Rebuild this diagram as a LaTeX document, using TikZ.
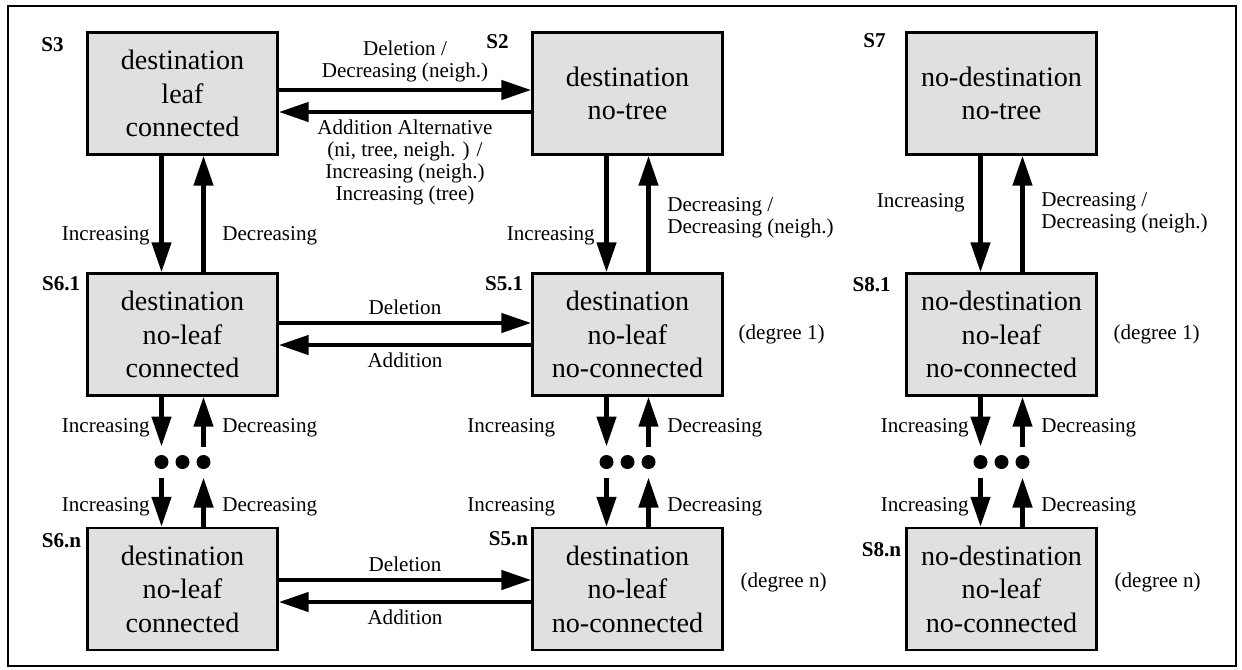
\documentclass[tikz,border=0pt]{standalone}
\usepackage{fontspec}
\setmainfont{Liberation Serif}
\usetikzlibrary{arrows.meta,positioning,calc}

\begin{document}
\begin{tikzpicture}[
 state/.style={draw,line width=1.4pt,fill=black!12,minimum width=3.8cm,minimum height=2.44cm,align=center,inner sep=2pt,font=\fontsize{16}{19}\selectfont},
 tag/.style={anchor=north east,inner sep=1pt,font=\fontsize{12}{13}\selectfont\bfseries},
 lbl/.style={inner sep=2pt,align=center,font=\fontsize{12}{12.5}\selectfont},
 lft/.style={lbl,left,xshift=-0.12cm},
 rgt/.style={lbl,right,xshift=0.26cm,align=left},
 dot/.style={circle,fill,minimum size=0.28cm,inner sep=0pt,outer sep=0.17cm},
 a/.style={-{Triangle[length=0.6cm,width=0.38cm]},line width=2.6pt}]
\useasboundingbox (0,0) rectangle (24.84,-13.38);
\draw[line width=1.1pt] (0.16,-0.12) rectangle (24.72,-13.32);

% states
\node[state] (s3) at (3.65,-1.87) {destination\\leaf\\connected};
\node[state] (s2) at (12.55,-1.87) {destination\\no-tree};
\node[state] (s7) at (20.03,-1.87) {no-destination\\no-tree};
\node[state] (s61) at (3.65,-6.69) {destination\\no-leaf\\connected};
\node[state] (s51) at (12.55,-6.69) {destination\\no-leaf\\no-connected};
\node[state] (s81) at (20.03,-6.69) {no-destination\\no-leaf\\no-connected};
\node[state] (s6n) at (3.65,-11.78) {destination\\no-leaf\\connected};
\node[state] (s5n) at (12.55,-11.78) {destination\\no-leaf\\no-connected};
\node[state] (s8n) at (20.03,-11.78) {no-destination\\no-leaf\\no-connected};

\node[tag] (t3) at ([xshift=-0.41cm,yshift=-0.09cm]s3.north west) {S3};
\node[tag] (t2) at ([xshift=-0.41cm,yshift=-0.03cm]s2.north west) {S2};
\node[tag] (t7) at ([xshift=-0.35cm]s7.north west) {S7};
\node[tag] (t61) at ([xshift=-0.08cm,yshift=-0.04cm]s61.north west) {S6.1};
\node[tag] (t51) at ([xshift=-0.12cm,yshift=-0.04cm]s51.north west) {S5.1};
\node[tag] (t81) at ([xshift=-0.25cm,yshift=-0.06cm]s81.north west) {S8.1};
\node[tag] (t6n) at ([xshift=-0.06cm,yshift=-0.1cm]s6n.north west) {S6.n};
\node[tag] (t5n) at ([xshift=-0.02cm,yshift=-0.05cm]s5n.north west) {S5.n};
\node[tag] (t8n) at ([xshift=-0.04cm,yshift=-0.27cm]s8n.north west) {S8.n};

\node[lbl,right=0.22cm of s51] (g51) {(degree 1)};
\node[lbl,right=0.26cm of s5n,yshift=0.14cm] (g5n) {(degree n)};
\node[lbl,right=0.24cm of s81] (g81) {(degree 1)};
\node[lbl,right=0.26cm of s8n,yshift=0.14cm] (g8n) {(degree n)};

% dots between degree 1 and degree n
\foreach \cl/\x in {6/3.65,5/12.55,8/20.03}{
 \node[dot] (d\cl a) at (\x-0.42,-9.24) {};
 \node[dot] (d\cl b) at (\x,-9.24) {};
 \node[dot] (d\cl c) at (\x+0.42,-9.24) {};
}

% horizontal transitions
\draw[a] ([yshift=0.07cm]s3.east) -- node[lbl,above,yshift=0.05cm]{Deletion /\\Decreasing (neigh.)} ([yshift=0.07cm]s3.east -| s2.west);
\draw[a] ([yshift=-0.37cm]s2.west) -- node[lbl,below,yshift=-0.05cm]{Addition Alternative\\(ni, tree, neigh. ) /\\Increasing (neigh.)\\Increasing (tree)} ([yshift=-0.37cm]s2.west -| s3.east);
\draw[a] ([yshift=0.23cm]s61.east) -- node[lbl,above,yshift=0.05cm]{Deletion} ([yshift=0.23cm]s61.east -| s51.west);
\draw[a] ([yshift=-0.21cm]s51.west) -- node[lbl,below,yshift=-0.05cm]{Addition} ([yshift=-0.21cm]s51.west -| s61.east);
\draw[a] ([yshift=0.18cm]s6n.east) -- node[lbl,above,yshift=0.05cm]{Deletion} ([yshift=0.18cm]s6n.east -| s5n.west);
\draw[a] ([yshift=-0.26cm]s5n.west) -- node[lbl,below,yshift=-0.05cm]{Addition} ([yshift=-0.26cm]s5n.west -| s6n.east);

% vertical transitions, top row
\draw[a] (s3.south -| d6a) -- node[lft,pos=0.69]{Increasing} (s61.north -| d6a);
\draw[a] (s61.north -| d6c) -- node[rgt,pos=0.31]{Decreasing} (s3.south -| d6c);
\draw[a] (s2.south -| d5a) -- node[lft,pos=0.69]{Increasing} (s51.north -| d5a);
\draw[a] (s51.north -| d5c) -- node[rgt,pos=0.47]{Decreasing /\\Decreasing (neigh.)} (s2.south -| d5c);
\draw[a] (s7.south -| d8a) -- node[lft,pos=0.40,xshift=-0.08cm]{Increasing} (s81.north -| d8a);
\draw[a] (s81.north -| d8c) -- node[rgt,pos=0.51]{Decreasing /\\Decreasing (neigh.)} (s7.south -| d8c);

% vertical transitions through the dots
\draw[a] (s61.south -| d6a) -- node[lft,pos=0.62]{Increasing} (d6a);
\draw[a] (d6c) -- node[rgt,pos=0.38]{Decreasing} (s61.south -| d6c);
\draw[a] (d6a) -- node[lft,pos=0.6]{Increasing} (s6n.north -| d6a);
\draw[a] (s6n.north -| d6c) -- node[rgt,pos=0.4]{Decreasing} (d6c);
\draw[a] (s51.south -| d5a) -- node[lft,pos=0.62,xshift=-0.79cm]{Increasing} (d5a);
\draw[a] (d5c) -- node[rgt,pos=0.38]{Decreasing} (s51.south -| d5c);
\draw[a] (d5a) -- node[lft,pos=0.6,xshift=-0.79cm]{Increasing} (s5n.north -| d5a);
\draw[a] (s5n.north -| d5c) -- node[rgt,pos=0.4]{Decreasing} (d5c);
\draw[a] (s81.south -| d8a) -- node[lft,pos=0.62]{Increasing} (d8a);
\draw[a] (d8c) -- node[rgt,pos=0.38]{Decreasing} (s81.south -| d8c);
\draw[a] (d8a) -- node[lft,pos=0.6]{Increasing} (s8n.north -| d8a);
\draw[a] (s8n.north -| d8c) -- node[rgt,pos=0.4]{Decreasing} (d8c);
\end{tikzpicture}
\end{document}
